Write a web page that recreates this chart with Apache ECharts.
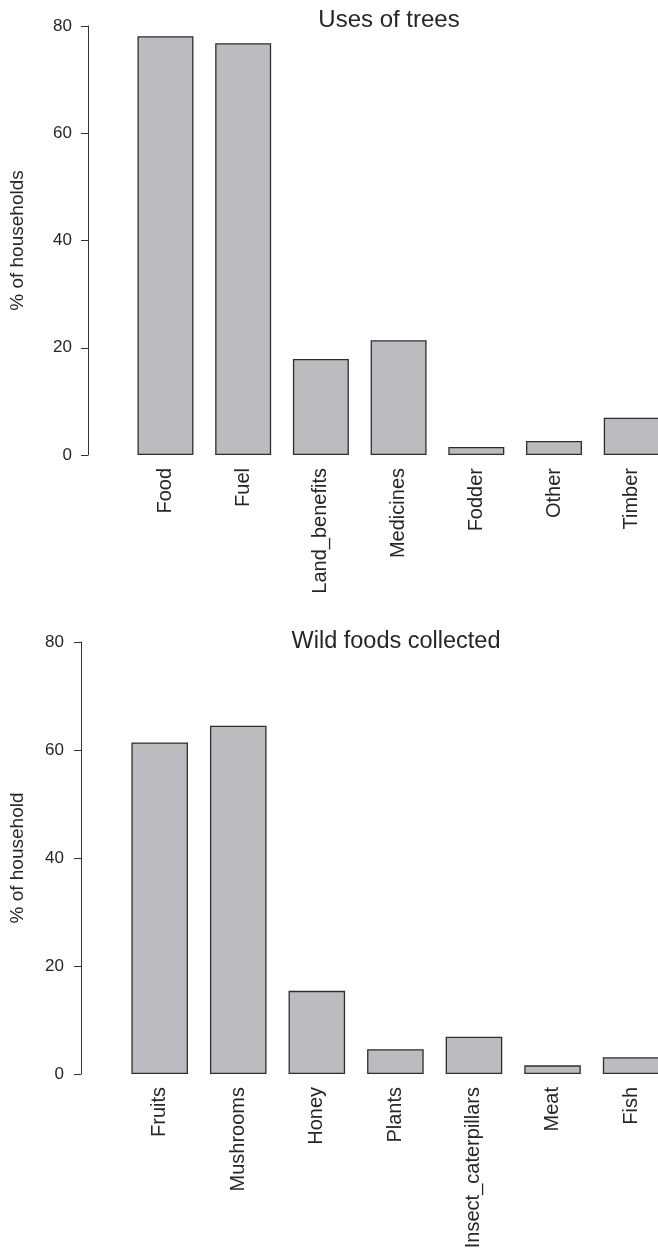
<!DOCTYPE html>
<html>
<head>
<meta charset="utf-8">
<script src="https://cdn.jsdelivr.net/npm/echarts@6/dist/echarts.min.js"></script>
<style>
html,body{margin:0;padding:0;background:#ffffff;overflow:hidden;width:658px;height:1253px;}
#c{width:672px;height:1253px;}
</style>
</head>
<body>
<div id="c"></div>
<script>
const treeTitle = 'Uses of trees';
const treeCategories = ['Food','Fuel','Land_benefits','Medicines','Fodder','Other','Timber'];
const treeValues = [78.1, 76.8, 17.9, 21.4, 1.5, 2.6, 6.95];
const treeYName = '% of households';

const foodTitle = 'Wild foods collected';
const foodCategories = ['Fruits','Mushrooms','Honey','Plants','Insect_caterpillars','Meat','Fish'];
const foodValues = [61.4, 64.5, 15.4, 4.6, 6.9, 1.6, 3.1];
const foodYName = '% of household';

const yMin = 0, yMax = 80, yStep = 20;

const font = '"Liberation Sans", Arial, sans-serif';
const txt = '#262626';
const barFill = '#bbbcc0';
const barEdge = '#2e2e2e';

function yAxis(gridIndex, name, offset, nameGap, labelMargin) {
  return {
    type: 'value', gridIndex: gridIndex, min: yMin, max: yMax, interval: yStep,
    offset: offset,
    name: name, nameLocation: 'middle', nameGap: nameGap,
    nameTextStyle: {fontFamily: font, fontSize: 19, color: txt},
    axisLine: {show: true, lineStyle: {color: '#333', width: 1}},
    axisTick: {show: true, length: 7, lineStyle: {color: '#333', width: 1}},
    axisLabel: {fontFamily: font, fontSize: 17, color: txt, margin: labelMargin},
    splitLine: {show: false}
  };
}
function xAxis(gridIndex, cats) {
  return {
    type: 'category', gridIndex: gridIndex, data: cats,
    axisLine: {show: false}, axisTick: {show: false},
    axisLabel: {rotate: 90, fontFamily: font, fontSize: 20, color: txt, margin: 13, interval: 0}
  };
}
function bars(idx, vals) {
  return {
    type: 'bar', xAxisIndex: idx, yAxisIndex: idx, data: vals,
    barCategoryGap: '28%',
    itemStyle: {color: barFill, borderColor: barEdge, borderWidth: 1.3},
    emphasis: {disabled: true}, silent: true
  };
}

const chart = echarts.init(document.getElementById('c'), null, {renderer: 'canvas'});
chart.setOption({
  backgroundColor: '#ffffff',
  animation: false,
  title: [
    {text: treeTitle, left: 384, top: 3, textAlign: 'center',
     textStyle: {fontFamily: font, fontSize: 24, fontWeight: 'normal', color: txt}},
    {text: foodTitle, left: 391, top: 625, textAlign: 'center',
     textStyle: {fontFamily: font, fontSize: 23.5, fontWeight: 'normal', color: txt}}
  ],
  grid: [
    {left: 125.6, width: 545, top: 26, height: 429},
    {left: 120.4, width: 550, top: 642, height: 432}
  ],
  xAxis: [xAxis(0, treeCategories), xAxis(1, foodCategories)],
  yAxis: [yAxis(0, treeYName, 38.6, 61, 16), yAxis(1, foodYName, 39.4, 54, 17)],
  series: [bars(0, treeValues), bars(1, foodValues)]
});
</script>
</body>
</html>
